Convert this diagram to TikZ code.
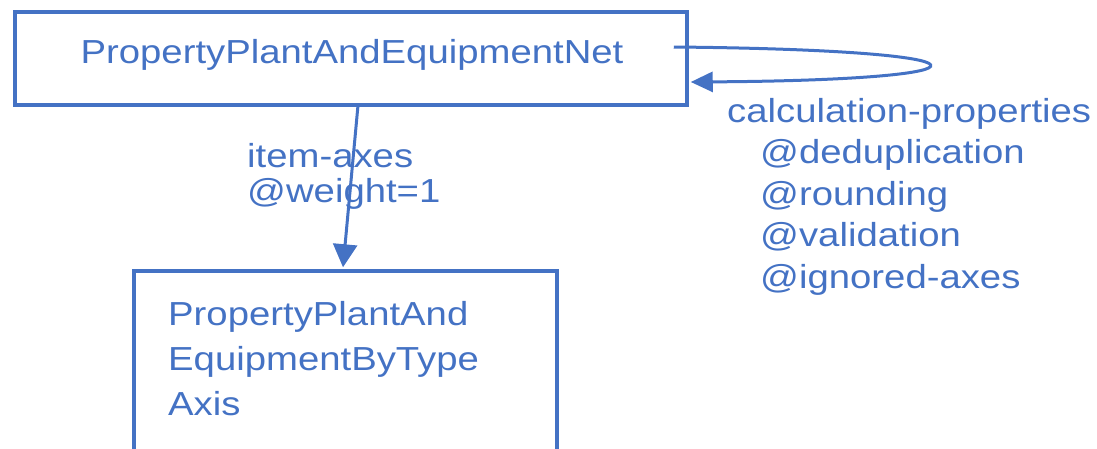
\documentclass[tikz,border=0pt]{standalone}
\usepackage{fontspec}
\setmainfont[FakeStretch=1.15]{Liberation Sans}
\usetikzlibrary{arrows.meta}
\definecolor{ib}{RGB}{68,114,196}
\begin{document}
\begin{tikzpicture}[x=1pt,y=-1pt,
  box/.style={draw=ib, line width=3.5pt, inner sep=0pt},
  txt/.style={text=ib, inner sep=0pt, align=left, font=\fontsize{33.3}{41.5}\selectfont},
  conn/.style={draw=ib, line width=3pt}]
\useasboundingbox (0,0) rectangle (1097,448);
\node[box, minimum width=672pt, minimum height=93pt] (top) at (351,58.5) {};
\node[box, minimum width=423pt, minimum height=209pt] (bot) at (345.5,375.5) {};
\node[txt, anchor=base] (toptxt) at (352,63) {PropertyPlantAndEquipmentNet};
\node[txt, anchor=north west, font=\fontsize{33.3}{45}\selectfont] (bottxt) at (168,301) {PropertyPlantAnd\\EquipmentByType\\Axis};
\node[txt, anchor=north west, font=\fontsize{33.3}{35}\selectfont] (lab1) at (247,143) {item-axes\\@weight=1};
\node[txt, anchor=north west] (lab2) at (727,98) {calculation-properties\\\hspace{33pt}@deduplication\\\hspace{33pt}@rounding\\\hspace{33pt}@validation\\\hspace{33pt}@ignored-axes};
\draw[conn, -{Triangle[length=23pt,width=24pt]}] ([xshift=7pt,yshift=1.5pt]top.south) -- ([xshift=-2.5pt,yshift=2pt]bot.north);
\draw[conn, -{Triangle[length=22pt,width=20pt]}] ([xshift=-15pt,yshift=11.5pt]top.east) .. controls (1010,50) and (1010,80) .. ([xshift=2pt,yshift=-23.5pt]top.east);
\end{tikzpicture}
\end{document}
